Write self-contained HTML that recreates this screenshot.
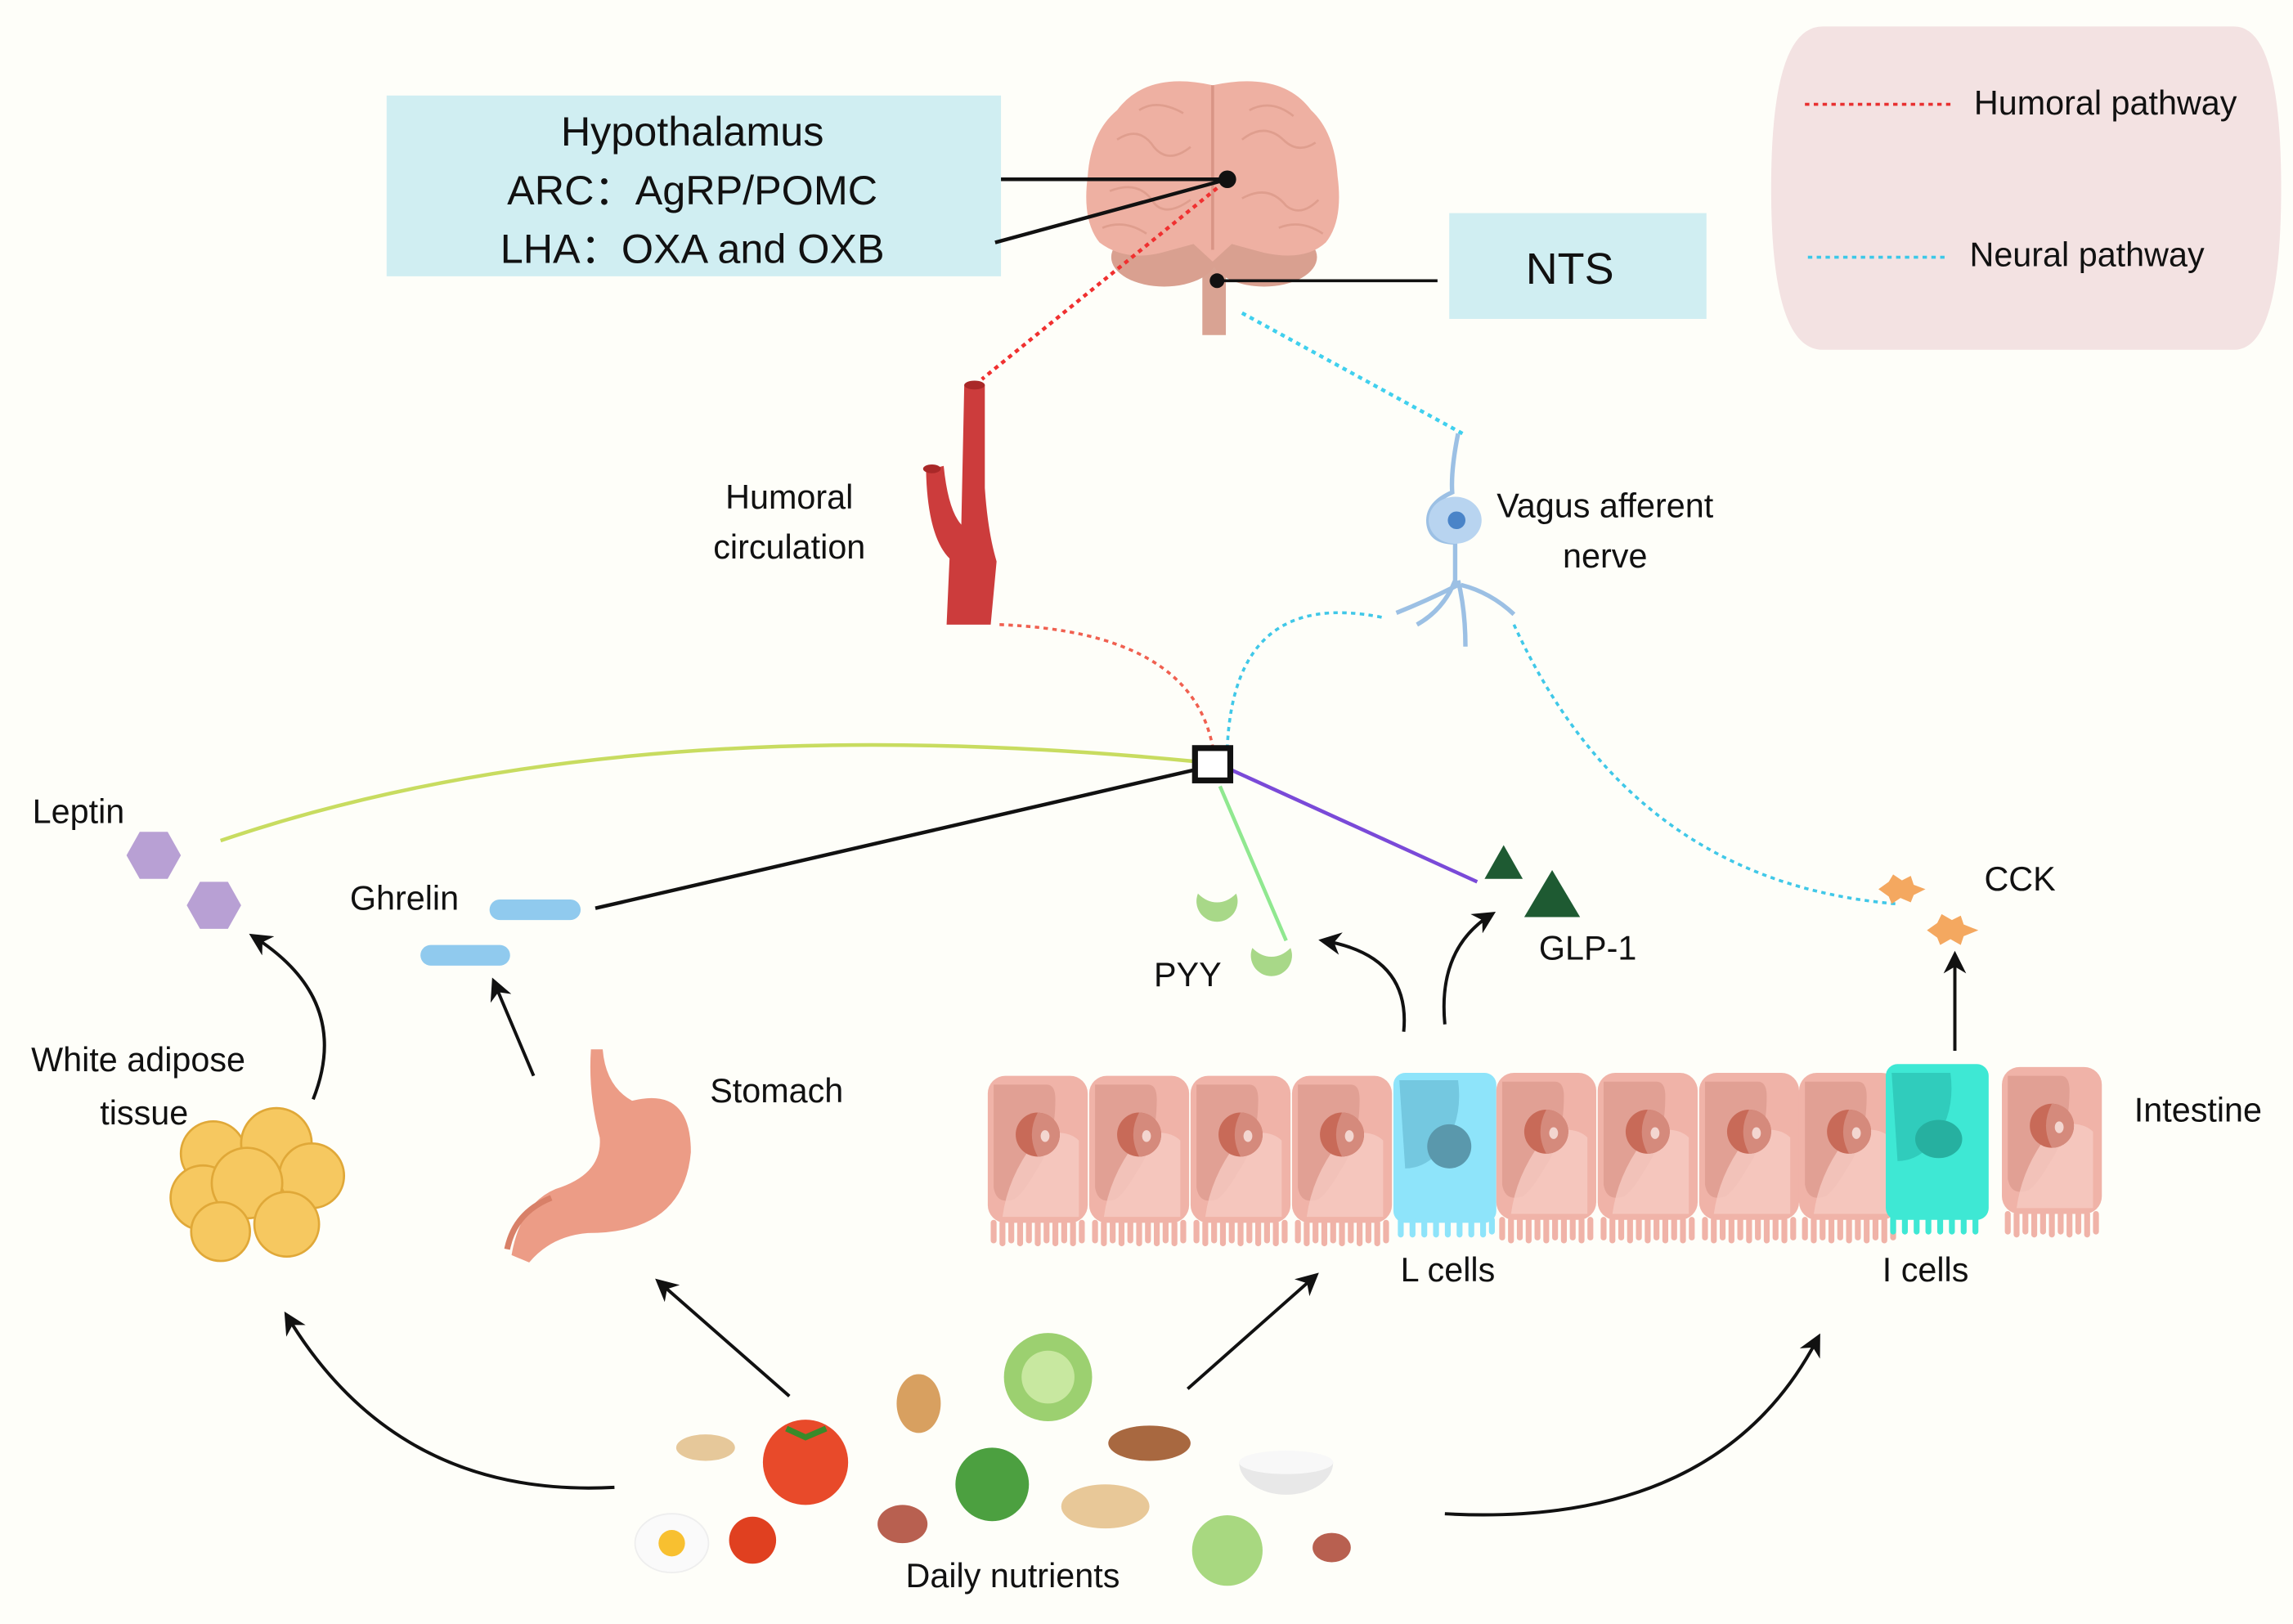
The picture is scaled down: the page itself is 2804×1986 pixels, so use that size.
<!DOCTYPE html>
<html><head><meta charset="utf-8"><style>
html,body{margin:0;padding:0;background:#fefef9;}
svg{display:block;}
text{font-family:"Liberation Sans",Arial,sans-serif;fill:#111;}
</style></head><body>
<svg width="2804" height="1986" viewBox="0 0 1560 1105" xmlns="http://www.w3.org/2000/svg">
<defs>
<marker id="ah" viewBox="0 0 10 10" refX="8" refY="5" markerWidth="7" markerHeight="7" orient="auto-start-reverse"><path d="M0,0 L10,5 L0,10 L3,5 z" fill="#111"/></marker>
<g id="cell">
<rect x="0" y="0" width="68" height="100" rx="12" fill="#f0b3a8"/>
<path d="M4,6 h36 q6,0 6,10 q0,30 -14,50 q-8,14 -14,18 q-12,4 -14,-8 z" fill="#dd9b8e" opacity="0.8"/>
<path d="M36,40 q18,-4 26,4 v52 h-52 q4,-30 26,-56z" fill="#f6cbc2" opacity="0.8"/>
<circle cx="34" cy="40" r="15" fill="#c86a58"/>
<path d="M34,25 a15,15 0 0 1 0,30 q-8,-15 0,-30z" fill="#d58a7c"/>
<ellipse cx="39" cy="41" rx="3" ry="4" fill="#f3d6d0"/>
<g stroke="#f0b3a8" stroke-width="4" stroke-linecap="round">
<path d="M4,100v12M10,100v14M16,100v12M22,100v14M28,100v12M34,100v14M40,100v12M46,100v14M52,100v12M58,100v14M64,100v12"/>
</g>
</g>
</defs>
<rect width="1560" height="1105" fill="#fefef9"/>

<!-- legend -->
<path d="M1240,18 H1520 Q1552,18 1552,128 Q1552,238 1520,238 H1240 Q1205,238 1205,128 Q1205,18 1240,18z" fill="#f3e2e2"/>
<line x1="1228" y1="71" x2="1330" y2="71" stroke="#e83030" stroke-width="2" stroke-dasharray="3,3"/>
<text x="1343" y="78" font-size="23">Humoral pathway</text>
<line x1="1230" y1="175" x2="1325" y2="175" stroke="#3cc8e8" stroke-width="2" stroke-dasharray="3,3"/>
<text x="1340" y="181" font-size="23">Neural pathway</text>

<!-- hypothalamus box -->
<rect x="263" y="65" width="418" height="123" fill="#d0eef2"/>
<text x="471" y="99" font-size="28" text-anchor="middle">Hypothalamus</text>
<text x="471" y="139" font-size="28" text-anchor="middle">ARC：AgRP/POMC</text>
<text x="471" y="179" font-size="28" text-anchor="middle">LHA：OXA and OXB</text>
<rect x="986" y="145" width="175" height="72" fill="#d0eef2"/>
<text x="1068" y="193" font-size="30" text-anchor="middle">NTS</text>

<!-- brain -->
<path d="M814,168 h24 l-4,20 v40 h-16 v-40z" fill="#d9a393"/>
<ellipse cx="792" cy="175" rx="36" ry="20" fill="#d9a090"/>
<ellipse cx="860" cy="175" rx="36" ry="20" fill="#d9a090"/>
<path d="M825,58 Q780,48 760,75 Q742,90 740,120 Q736,150 748,165 Q765,178 790,172 L812,166 L825,178 L838,166 L860,172 Q888,178 902,165 Q914,150 910,120 Q908,90 892,75 Q872,48 825,58z" fill="#eeb0a2"/>
<path d="M825,58 V170" stroke="#d99586" stroke-width="2"/>
<g stroke="#dc9a8a" stroke-width="1.5" fill="none" opacity="0.8">
<path d="M760,95 q15,-10 25,5 q10,12 25,0"/><path d="M755,130 q20,-8 30,8 q8,10 25,-2"/><path d="M845,95 q15,-12 28,0 q10,10 22,2"/><path d="M845,135 q18,-10 30,5 q10,8 22,-4"/><path d="M775,75 q12,-8 30,2"/><path d="M850,75 q15,-8 30,4"/><path d="M750,155 q15,-6 30,4"/><path d="M870,155 q15,-6 30,4"/>
</g>
<line x1="681" y1="122" x2="835" y2="122" stroke="#111" stroke-width="2.5"/>
<line x1="677" y1="165" x2="835" y2="122" stroke="#111" stroke-width="2.5"/>
<circle cx="835" cy="122" r="6" fill="#111"/>
<line x1="828" y1="191" x2="978" y2="191" stroke="#111" stroke-width="2"/>
<circle cx="828" cy="191" r="5" fill="#111"/>
<line x1="828" y1="128" x2="668" y2="258" stroke="#f03030" stroke-width="2.5" stroke-dasharray="3,3"/>
<line x1="845" y1="213" x2="995" y2="295" stroke="#40d0ee" stroke-width="2.5" stroke-dasharray="3,3"/>

<!-- vessel -->
<path d="M656,262 h14 v70 q2,30 8,50 l-4,43 h-30 l2,-45 q-15,-15 -16,-60 l12,-3 q3,30 12,40 z" fill="#cc3c3c"/>
<ellipse cx="663" cy="262" rx="7" ry="3" fill="#a92828"/>
<ellipse cx="634" cy="319" rx="6" ry="3" fill="#a92828"/>
<text x="537" y="346" font-size="23" text-anchor="middle">Humoral</text>
<text x="537" y="380" font-size="23" text-anchor="middle">circulation</text>

<!-- neuron -->
<path d="M992,295 q-5,25 -4,40 q-18,8 -16,22 q2,12 18,12 v30 q-20,10 -40,18 M990,395 q-8,20 -26,30 M992,395 q5,20 5,45 M994,398 q20,5 36,20" stroke="#9cc0e4" stroke-width="3" fill="none"/>
<ellipse cx="990" cy="354" rx="18" ry="16" fill="#b8d4f0"/>
<circle cx="991" cy="354" r="6" fill="#4a84c8"/>
<text x="1092" y="352" font-size="23" text-anchor="middle">Vagus afferent</text>
<text x="1092" y="386" font-size="23" text-anchor="middle">nerve</text>

<!-- dotted curves -->
<path d="M680,425 Q810,430 825,508" stroke="#f06050" stroke-width="2" fill="none" stroke-dasharray="3,3"/>
<path d="M940,420 Q840,400 835,508" stroke="#40c8e8" stroke-width="2" fill="none" stroke-dasharray="3,3"/>
<path d="M1030,425 Q1110,600 1290,615" stroke="#40c8e8" stroke-width="2" fill="none" stroke-dasharray="3,3"/>

<!-- connectors to square -->
<path d="M150,572 Q420,480 812,518" stroke="#c8dc60" stroke-width="2.5" fill="none"/>
<line x1="405" y1="618" x2="812" y2="524" stroke="#111" stroke-width="2.5"/>
<line x1="838" y1="524" x2="1005" y2="600" stroke="#7a4ad8" stroke-width="2.5"/>
<line x1="830" y1="535" x2="875" y2="640" stroke="#90e890" stroke-width="2.5"/>
<rect x="813" y="509" width="24" height="22" fill="#fff" stroke="#111" stroke-width="4"/>

<!-- leptin -->
<polygon points="86,582 95,566 114,566 123,582 114,598 95,598" fill="#b8a0d4"/>
<polygon points="127,616 136,600 155,600 164,616 155,632 136,632" fill="#b8a0d4"/>
<text x="22" y="560" font-size="23">Leptin</text>
<!-- ghrelin -->
<rect x="333" y="612" width="62" height="14" rx="7" fill="#90caee"/>
<rect x="286" y="643" width="61" height="14" rx="7" fill="#90caee"/>
<text x="238" y="619" font-size="23">Ghrelin</text>
<!-- PYY -->
<path d="M815,608 a14,14 0 1 0 26,0 q-6,6 -13,6 q-7,0 -13,-6z" fill="#a8d888"/>
<path d="M852,645 a14,14 0 1 0 26,0 q-6,6 -13,6 q-7,0 -13,-6z" fill="#a8d888"/>
<text x="785" y="671" font-size="23">PYY</text>
<!-- GLP-1 -->
<polygon points="1023,575 1036,598 1010,598" fill="#1e5a32"/>
<polygon points="1056,592 1075,624 1037,624" fill="#1e5a32"/>
<text x="1047" y="653" font-size="23">GLP-1</text>
<!-- CCK -->
<polygon points="1278,605 1285,600 1288,595 1294,599 1300,596 1302,602 1310,605 1302,609 1300,614 1293,611 1287,615 1285,610" fill="#f4a860"/>
<polygon points="1311,633 1318,628 1321,622 1328,626 1334,623 1336,629 1346,633 1336,637 1334,643 1327,639 1320,643 1318,638" fill="#f4a860"/>
<text x="1350" y="606" font-size="23">CCK</text>

<!-- intestine cells -->
<use href="#cell" x="672" y="732"/>
<use href="#cell" x="741" y="732"/>
<use href="#cell" x="810" y="732"/>
<use href="#cell" x="879" y="732"/>
<g>
<rect x="948" y="730" width="70" height="102" rx="8" fill="#8ee4fa"/>
<path d="M952,735 h40 q4,30 -14,50 q-10,10 -22,10z" fill="#74c8e0"/>
<g stroke="#8ee4fa" stroke-width="4" stroke-linecap="round"><path d="M953,830v10M961,830v10M969,830v10M977,830v10M985,830v10M993,830v10M1001,830v10M1009,830v10M1015,830v8"/></g>
<circle cx="986" cy="780" r="15" fill="#5a98ac"/>
</g>
<use href="#cell" x="1018" y="730"/>
<use href="#cell" x="1087" y="730"/>
<use href="#cell" x="1156" y="730"/>
<use href="#cell" x="1224" y="730"/>
<g>
<rect x="1283" y="724" width="70" height="106" rx="8" fill="#3ee8d4"/>
<path d="M1287,730 h40 q4,30 -14,50 q-10,10 -22,10z" fill="#30ccbc"/>
<g stroke="#3ee8d4" stroke-width="4" stroke-linecap="round"><path d="M1288,828v10M1296,828v10M1304,828v10M1312,828v10M1320,828v10M1328,828v10M1336,828v10M1344,828v10"/></g>
<ellipse cx="1319" cy="775" rx="16" ry="13" fill="#26b0a0"/>
</g>
<use href="#cell" x="1362" y="726"/>
<text x="1452" y="763" font-size="23">Intestine</text>
<text x="985" y="872" font-size="23" text-anchor="middle">L cells</text>
<text x="1310" y="872" font-size="23" text-anchor="middle">I cells</text>

<!-- stomach -->
<path d="M402,714 l8,0 q2,25 20,35 q40,-10 40,35 q-5,55 -70,55 q-25,2 -40,20 l-12,-5 q6,-35 30,-45 q32,-10 30,-35 q-8,-30 -6,-60z" fill="#ec9c86"/>
<path d="M345,850 q5,-25 30,-35" stroke="#d88068" stroke-width="4" fill="none"/>
<text x="483" y="750" font-size="23">Stomach</text>

<!-- adipose -->
<g fill="#f6c860" stroke="#e0a838" stroke-width="1.5">
<circle cx="145" cy="785" r="22"/><circle cx="188" cy="778" r="24"/><circle cx="212" cy="800" r="22"/>
<circle cx="138" cy="815" r="22"/><circle cx="168" cy="805" r="24"/><circle cx="150" cy="838" r="20"/><circle cx="195" cy="833" r="22"/>
</g>
<text x="94" y="729" font-size="23" text-anchor="middle">White adipose</text>
<text x="98" y="765" font-size="23" text-anchor="middle">tissue</text>

<!-- nutrients -->
<ellipse cx="480" cy="985" rx="20" ry="9" fill="#e6c89a"/>
<circle cx="548" cy="995" r="29" fill="#e84a2a"/><path d="M535,972 l13,6 l14,-6" stroke="#3a8a2a" stroke-width="4" fill="none"/>
<ellipse cx="625" cy="955" rx="15" ry="20" fill="#d8a060"/>
<circle cx="713" cy="937" r="30" fill="#9cd070"/><circle cx="713" cy="937" r="18" fill="#c8e8a0"/>
<circle cx="675" cy="1010" r="25" fill="#4ca040"/>
<ellipse cx="614" cy="1037" rx="17" ry="13" fill="#b86050"/>
<ellipse cx="782" cy="982" rx="28" ry="12" fill="#a86840"/>
<ellipse cx="752" cy="1025" rx="30" ry="15" fill="#e8c898"/>
<path d="M843,995 a32,22 0 0 0 64,0z" fill="#e8e8e8"/><ellipse cx="875" cy="995" rx="32" ry="8" fill="#f8f8f8"/>
<circle cx="835" cy="1055" r="24" fill="#a8d880"/>
<ellipse cx="906" cy="1053" rx="13" ry="10" fill="#b86050"/>
<ellipse cx="457" cy="1050" rx="25" ry="20" fill="#fafafa" stroke="#eee"/><circle cx="457" cy="1050" r="9" fill="#f8c030"/>
<circle cx="512" cy="1048" r="16" fill="#e04020"/>
<text x="689" y="1080" font-size="23" text-anchor="middle">Daily nutrients</text>

<!-- arrows -->
<g stroke="#111" stroke-width="2.2" fill="none" marker-end="url(#ah)">
<path d="M213,748 Q240,680 172,637"/>
<line x1="363" y1="732" x2="336" y2="668"/>
<path d="M955,702 Q960,650 900,640"/>
<path d="M983,697 Q978,645 1015,622"/>
<line x1="1330" y1="715" x2="1330" y2="650"/>
<path d="M418,1012 Q270,1020 195,895"/>
<line x1="537" y1="950" x2="448" y2="872"/>
<line x1="808" y1="945" x2="895" y2="868"/>
<path d="M983,1030 Q1170,1040 1237,910"/>
</g>
</svg>
</body></html>
